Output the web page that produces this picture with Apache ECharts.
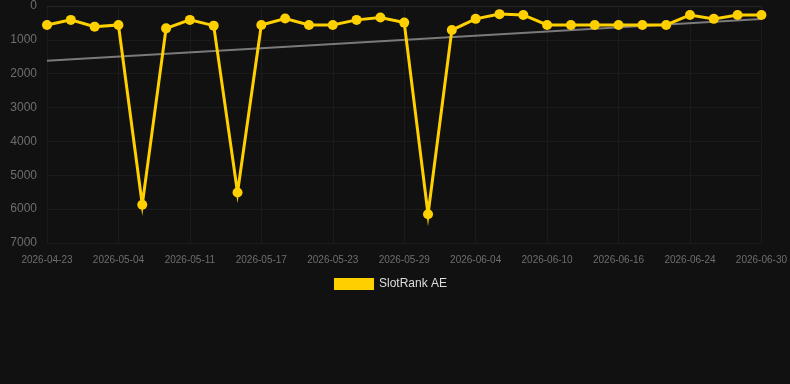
<!DOCTYPE html>
<html lang="en">
<head>
    <meta charset="UTF-8">
    <title>SlotRank AE</title>
    <script src="https://cdn.jsdelivr.net/npm/echarts@6/dist/echarts.min.js"></script>
    <style>
        html, body { margin: 0; padding: 0; background: #111111; }
        #chart { width: 790px; height: 384px; }
    </style>
</head>
<body>
<div id="chart"></div>
<script type="text/javascript">
    // dates on the x axis (labels shown every 3rd one)
    var dates = ['2026-04-23', '2026-04-27', '2026-04-30', '2026-05-04', '2026-05-06', '2026-05-09',
        '2026-05-11', '2026-05-13', '2026-05-15', '2026-05-17', '2026-05-19', '2026-05-21',
        '2026-05-23', '2026-05-25', '2026-05-27', '2026-05-29', '2026-05-31', '2026-06-02',
        '2026-06-04', '2026-06-06', '2026-06-08', '2026-06-10', '2026-06-12', '2026-06-14',
        '2026-06-16', '2026-06-19', '2026-06-21', '2026-06-24', '2026-06-26', '2026-06-28',
        '2026-06-30'];

    // rank values
    var ranks = [560, 410, 610, 560, 5870, 660, 410, 580, 5510, 560, 370, 560,
        560, 410, 340, 490, 6150, 710, 380, 240, 265, 560, 560, 560,
        560, 560, 560, 265, 380, 265, 265];

    // trend line, start and end
    var trendStart = 1620;
    var trendEnd = 385;

    var yTicks = [0, 1000, 2000, 3000, 4000, 5000, 6000, 7000];

    var chart = echarts.init(document.getElementById('chart'));

    var option = {
        backgroundColor: '#111111',
        animation: false,
        grid: {
            left: 47,
            right: 28,
            top: 6,
            bottom: 141
        },
        legend: {
            top: 278,
            left: 334,
            padding: 0,
            itemWidth: 40,
            itemHeight: 12,
            itemGap: 10,
            data: [{ name: 'SlotRank AE', icon: 'rect' }],
            textStyle: { color: '#dddddd', fontSize: 12 }
        },
        xAxis: {
            type: 'category',
            boundaryGap: false,
            data: dates,
            axisLine: { show: true, lineStyle: { color: '#262626' } },
            axisTick: { show: false },
            axisLabel: {
                interval: 2,
                color: '#6e6e6e',
                fontSize: 10,
                margin: 12
            },
            splitLine: {
                show: true,
                interval: 2,
                lineStyle: { color: '#1b1b1b' }
            }
        },
        yAxis: {
            type: 'value',
            inverse: true,
            min: yTicks[0],
            max: yTicks[yTicks.length - 1],
            interval: 1000,
            axisLine: { show: false },
            axisTick: { show: false },
            axisLabel: {
                color: '#6e6e6e',
                fontSize: 12,
                margin: 10,
                formatter: function (v) { return String(v); }
            },
            splitLine: { lineStyle: { color: '#1b1b1b' } }
        },
        series: [{
            name: 'trend',
            type: 'line',
            silent: true,
            symbol: 'none',
            data: [[0, trendStart], [dates.length - 1, trendEnd]],
            lineStyle: { color: '#7a7a7a', width: 2 },
            z: 1
        }, {
            name: 'SlotRank AE',
            type: 'line',
            data: ranks,
            symbol: 'circle',
            symbolSize: 10,
            itemStyle: { color: '#ffd000' },
            lineStyle: { color: '#ffd000', width: 3, join: 'miter', miterLimit: 10 },
            z: 2
        }]
    };

    chart.setOption(option);
</script>
</body>
</html>
